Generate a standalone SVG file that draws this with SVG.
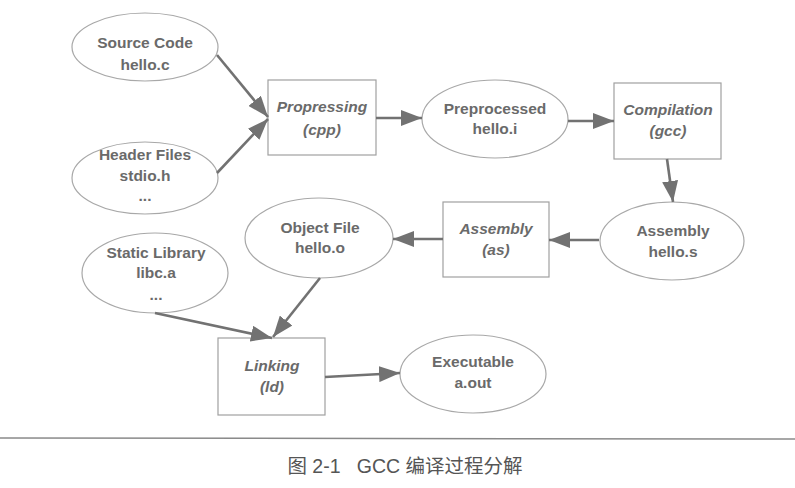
<svg xmlns="http://www.w3.org/2000/svg" width="795" height="488" viewBox="0 0 795 488">
<style>
.bg{fill:#fff}
.ell{fill:#fff;stroke:#a8a8a8;stroke-width:1.2}
.box{fill:#fff;stroke:#a0a0a0;stroke-width:1.2}
.lbl{font-family:"Liberation Sans",Arial,sans-serif;font-size:15.5px;font-weight:bold;fill:#6a6a6a;text-anchor:middle}
.it{font-style:italic}
.arr{stroke:#727272;stroke-width:2.6;fill:none;marker-end:url(#ah)}
.cap{font-family:"Liberation Sans","Noto Sans CJK SC",sans-serif;font-size:19.5px;fill:#555;text-anchor:middle}
</style>
<defs>
<marker id="ah" markerUnits="userSpaceOnUse" markerWidth="21" markerHeight="16" refX="21" refY="8" orient="auto">
<path d="M0,0 L21,8 L0,16 z" fill="#727272"/>
</marker>
</defs>
<rect class="bg" x="0" y="0" width="795" height="488"/>

<g id="source">
<ellipse class="ell" cx="145" cy="47" rx="73" ry="34"/>
<text class="lbl" x="145" y="48">Source Code</text>
<text class="lbl" x="145" y="70">hello.c</text>
</g>
<g id="header">
<ellipse class="ell" cx="145" cy="178" rx="73" ry="36"/>
<text class="lbl" x="145" y="160">Header Files</text>
<text class="lbl" x="145" y="181">stdio.h</text>
<text class="lbl" x="145" y="201">...</text>
</g>
<g id="cpp">
<rect class="box" x="268" y="80" width="108" height="75"/>
<text class="lbl it" x="322" y="112">Propressing</text>
<text class="lbl it" x="322" y="135">(cpp)</text>
</g>
<g id="preprocessed">
<ellipse class="ell" cx="495" cy="119" rx="73" ry="39"/>
<text class="lbl" x="495" y="114">Preprocessed</text>
<text class="lbl" x="495" y="134">hello.i</text>
</g>
<g id="gcc">
<rect class="box" x="614" y="83" width="107" height="76"/>
<text class="lbl it" x="668" y="115">Compilation</text>
<text class="lbl it" x="668" y="136">(gcc)</text>
</g>
<g id="asmfile">
<ellipse class="ell" cx="672" cy="241" rx="72" ry="39"/>
<text class="lbl" x="673" y="236">Assembly</text>
<text class="lbl" x="673" y="257">hello.s</text>
</g>
<g id="as">
<rect class="box" x="443" y="202" width="106" height="75"/>
<text class="lbl it" x="496" y="234">Assembly</text>
<text class="lbl it" x="496" y="255">(as)</text>
</g>
<g id="object">
<ellipse class="ell" cx="319" cy="238" rx="74" ry="40"/>
<text class="lbl" x="320" y="233">Object File</text>
<text class="lbl" x="320" y="253">hello.o</text>
</g>
<g id="static">
<ellipse class="ell" cx="155" cy="273" rx="73" ry="40"/>
<text class="lbl" x="156" y="258">Static Library</text>
<text class="lbl" x="156" y="278">libc.a</text>
<text class="lbl" x="156" y="300">...</text>
</g>
<g id="ld">
<rect class="box" x="218" y="338" width="107" height="77"/>
<text class="lbl it" x="272" y="371">Linking</text>
<text class="lbl it" x="272" y="392">(ld)</text>
</g>
<g id="exe">
<ellipse class="ell" cx="473" cy="374" rx="73" ry="39"/>
<text class="lbl" x="473" y="367">Executable</text>
<text class="lbl" x="473" y="388">a.out</text>
</g>

<g id="connectors">
<line class="arr" x1="217" y1="55" x2="268" y2="117"/>
<line class="arr" x1="217" y1="173" x2="268" y2="119"/>
<line class="arr" x1="376" y1="118" x2="422" y2="118"/>
<line class="arr" x1="568" y1="121" x2="614" y2="121"/>
<line class="arr" x1="667" y1="159" x2="673" y2="202"/>
<line class="arr" x1="599" y1="240" x2="549" y2="240"/>
<line class="arr" x1="443" y1="239" x2="393" y2="239"/>
<line class="arr" x1="320" y1="278" x2="273" y2="337"/>
<line class="arr" x1="155" y1="313" x2="272" y2="338"/>
<line class="arr" x1="325" y1="377" x2="400" y2="373"/>
</g>

<line x1="0" y1="438" x2="795" y2="439" stroke="#8a8a8a" stroke-width="1.5"/>
<text class="cap" x="405" y="473" xml:space="preserve">图 2-1   GCC 编译过程分解</text>
</svg>
